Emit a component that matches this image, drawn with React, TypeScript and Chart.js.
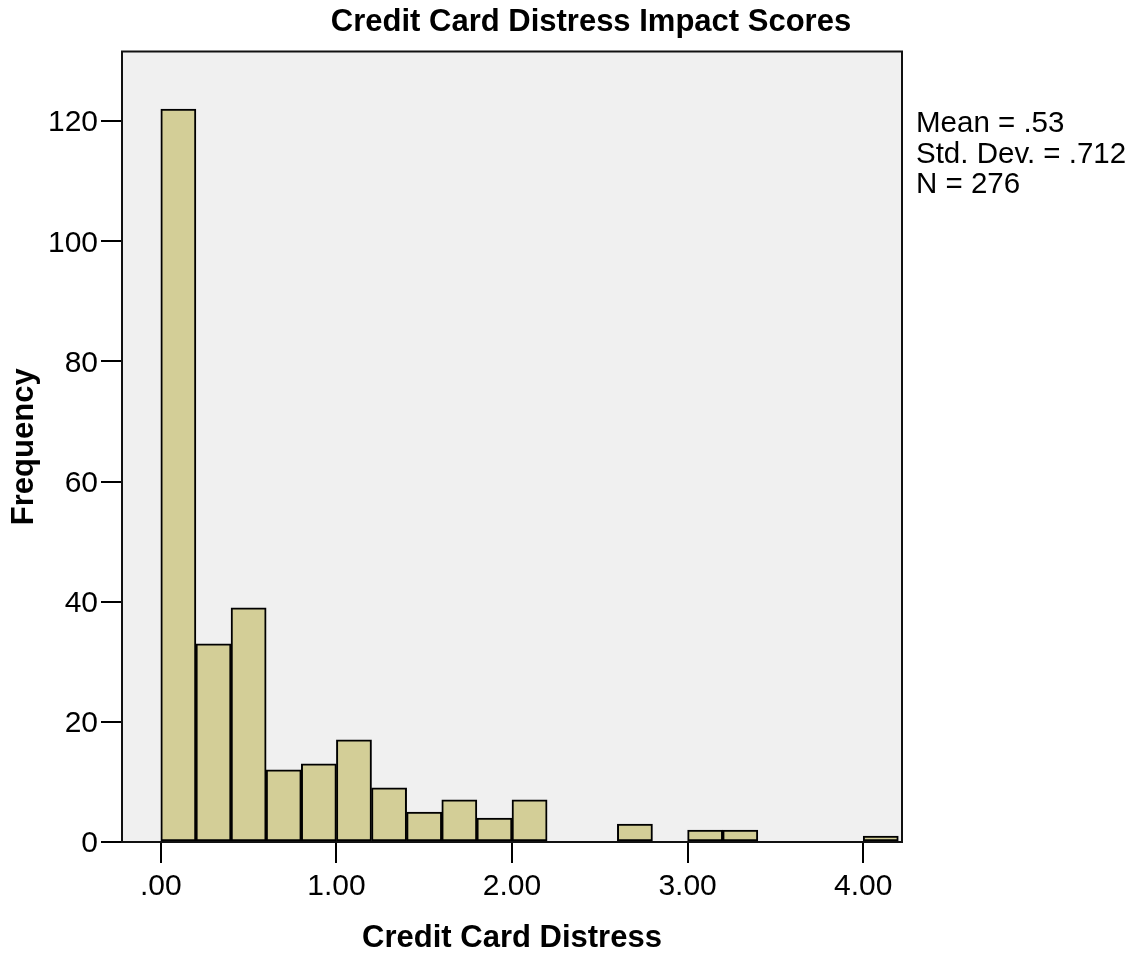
import React, { useEffect, useRef } from 'react';
import { Chart, registerables } from 'chart.js';

Chart.register(...registerables);

// ---- Data ----
const chartTitle = 'Credit Card Distress Impact Scores';
const xAxisTitle = 'Credit Card Distress';
const yAxisTitle = 'Frequency';
const binWidth = 0.2;
const binStarts = [0, 0.2, 0.4, 0.6, 0.8, 1.0, 1.2, 1.4, 1.6, 1.8, 2.0, 2.2, 2.4, 2.6, 2.8, 3.0, 3.2, 3.4, 3.6, 3.8, 4.0];
const frequencies = [122, 33, 39, 12, 13, 17, 9, 5, 7, 4, 7, 0, 0, 3, 0, 2, 2, 0, 0, 0, 1];
const xTickValues = [0, 1, 2, 3, 4];
const yTickValues = [0, 20, 40, 60, 80, 100, 120];
const statsLines = ['Mean = .53', 'Std. Dev. = .712', 'N = 276'];

const FONT = '"Liberation Sans", Arial, Helvetica, sans-serif';

const formatX = (v: number) => (v === 0 ? '.00' : v.toFixed(2));

const framePlugin = {
  id: 'frameAndText',
  beforeDraw(chart: any) {
    const { ctx, chartArea } = chart;
    ctx.save();
    ctx.fillStyle = '#F0F0F0';
    ctx.fillRect(chartArea.left, chartArea.top, chartArea.right - chartArea.left, chartArea.bottom - chartArea.top);
    ctx.restore();
  },
  afterDraw(chart: any) {
    const { ctx, chartArea } = chart;
    ctx.save();
    ctx.strokeStyle = '#111';
    ctx.lineWidth = 2;
    ctx.strokeRect(chartArea.left, chartArea.top, chartArea.right - chartArea.left, chartArea.bottom - chartArea.top);
    // title
    ctx.fillStyle = '#000';
    ctx.font = `bold 31px ${FONT}`;
    ctx.textAlign = 'center';
    ctx.textBaseline = 'middle';
    ctx.fillText(chartTitle, 591, 22);
    // stats text
    ctx.font = `29.5px ${FONT}`;
    ctx.textAlign = 'left';
    ctx.textBaseline = 'alphabetic';
    statsLines.forEach((line, i) => {
      ctx.fillText(line, chartArea.right + 14, 132 + i * 30.5);
    });
    ctx.restore();
  },
};

export default function App() {
  const canvasRef = useRef<HTMLCanvasElement | null>(null);

  useEffect(() => {
    if (!canvasRef.current) return;
    const chart = new Chart(canvasRef.current, {
      type: 'bar',
      data: {
        datasets: [
          {
            label: yAxisTitle,
            data: binStarts.map((s, i) => ({ x: s + binWidth / 2, y: frequencies[i] })),
            backgroundColor: '#D3CE97',
            borderColor: '#000',
            borderWidth: 2,
            borderSkipped: false,
            barPercentage: 1,
            categoryPercentage: 1,
          },
        ],
      },
      options: {
        responsive: false,
        animation: false,
        layout: { padding: { top: 51.5, right: 242, bottom: 0, left: 0 } },
        plugins: {
          legend: { display: false },
          title: { display: false },
          tooltip: { enabled: false },
        },
        scales: {
          x: {
            type: 'linear',
            min: -0.221,
            max: 4.221,
            offset: false,
            grid: {
              offset: false,
              drawOnChartArea: false,
              drawTicks: true,
              tickLength: 21,
              color: '#000',
              lineWidth: 2,
            },
            border: { display: true, color: '#000', width: 2 },
            ticks: {
              color: '#000',
              font: { family: FONT, size: 30 },
              padding: 6,
              maxRotation: 0,
              autoSkip: false,
              callback: (v: any) => formatX(Number(v)),
            },
            afterBuildTicks: (scale: any) => {
              scale.ticks = xTickValues.map((v) => ({ value: v }));
            },
            afterFit: (scale: any) => {
              scale.height = 113;
            },
            title: {
              display: true,
              text: xAxisTitle,
              color: '#000',
              font: { family: FONT, size: 31, weight: 'bold', lineHeight: 1 },
              padding: { top: 0, bottom: 1 },
            },
          },
          y: {
            type: 'linear',
            min: 0,
            max: 131.6,
            grid: {
              drawOnChartArea: false,
              drawTicks: true,
              tickLength: 21,
              color: '#000',
              lineWidth: 2,
            },
            border: { display: true, color: '#000', width: 2 },
            ticks: {
              color: '#000',
              font: { family: FONT, size: 30 },
              padding: 3,
              labelOffset: 2,
              autoSkip: false,
              callback: (v: any) => String(v),
            },
            afterBuildTicks: (scale: any) => {
              scale.ticks = yTickValues.map((v) => ({ value: v }));
            },
            afterFit: (scale: any) => {
              scale.width = 122;
            },
            title: {
              display: true,
              text: yAxisTitle,
              color: '#000',
              font: { family: FONT, size: 31, weight: 'bold', lineHeight: 1 },
              padding: { top: 9, bottom: 0 },
            },
          },
        },
      },
      plugins: [framePlugin],
    });
    return () => chart.destroy();
  }, []);

  return (
    <div style={{ position: 'absolute', left: 0, top: 0, width: 1144, height: 955, background: '#fff' }}>
      <canvas ref={canvasRef} width={1144} height={955} style={{ width: 1144, height: 955 }} />
    </div>
  );
}
